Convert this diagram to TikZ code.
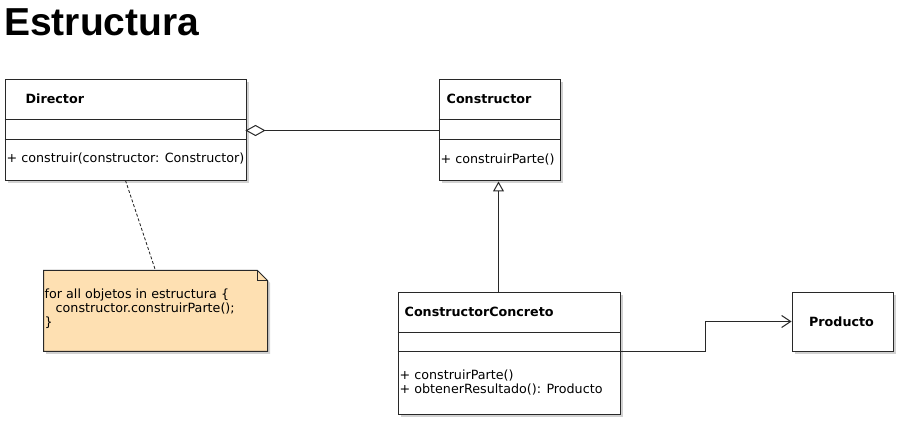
\documentclass[tikz,border=0pt]{standalone}
\usepackage{fontspec}
\setmainfont{DejaVu Sans}
\newfontfamily\titlefont{Liberation Sans}
\usetikzlibrary{arrows.meta,shadows,calc}
\definecolor{linec}{RGB}{40,40,40}
\definecolor{notefill}{RGB}{254,224,178}
\tikzset{
  classbox/.style={draw=linec, line width=1pt, fill=white, rectangle, anchor=north west, inner sep=0pt,
    drop shadow={shadow xshift=2.5pt, shadow yshift=-2.5pt, fill=black, opacity=0.18}},
  txt/.style={anchor=west, inner sep=0pt, font=\fontsize{12.7}{14}\selectfont, text=black},
  btxt/.style={anchor=west, inner sep=0pt, font=\fontsize{12.7}{14}\selectfont\bfseries, text=black},
  conn/.style={draw=linec, line width=1pt},
}
\begin{document}
\begin{tikzpicture}[x=1pt,y=-1pt]
\useasboundingbox (0,0) rectangle (898,422);
% title
\node[anchor=base west, inner sep=0pt, font=\titlefont\fontsize{39}{42}\selectfont\bfseries] (title) at (4,36) {Estructura};
\begin{scope}[shift={(0.5,0.5)}]
% Director
\node[classbox, minimum width=241pt, minimum height=101pt] (dir) at (4,79) {};
\draw[conn] (4,119) -- (245,119);
\draw[conn] (4,139) -- (245,139);
\node[btxt] (dirt) at (25,98) {Director};
\node[txt] (dirm) at (6,158) {+ construir(constructor: Constructor)};

% Constructor
\node[classbox, minimum width=121pt, minimum height=101pt] (cons) at (438,79) {};
\draw[conn] (438,119) -- (559,119);
\draw[conn] (438,139) -- (559,139);
\node[btxt] (const) at (446,98) {Constructor};
\node[txt] (consm) at (440,159) {+ construirParte()};

% ConstructorConcreto
\node[classbox, minimum width=222pt, minimum height=121pt] (cc) at (397,292) {};
\draw[conn] (397,332) -- (619,332);
\draw[conn] (397,351) -- (619,351);
\node[btxt] (cct) at (404,311) {ConstructorConcreto};
\node[txt] (ccm1) at (399,375) {+ construirParte()};
\node[txt] (ccm2) at (399,389) {+ obtenerResultado(): Producto};

% Producto
\node[classbox, minimum width=101pt, minimum height=59pt] (prod) at (791,292) {};
\node[btxt, anchor=center] (prodt) at (841,321) {Producto};

% Note
\fill[black, opacity=0.18] (45.5,272.5) -- (259.5,272.5) -- (269.5,282.5) -- (269.5,353.5) -- (45.5,353.5) -- cycle;
\draw[conn, fill=notefill] (43,270) -- (257,270) -- (267,280) -- (267,351) -- (43,351) -- cycle;
\draw[conn] (257,270) -- (257,280) -- (267,280);
\coordinate (notetop) at (155,270);
\node[txt] (n1) at (44,294) {for all objetos in estructura \{};
\node[txt] (n2) at (44,308) {\hspace*{11pt}constructor.construirParte();};
\node[txt] (n3) at (44,322) {\}};

% connectors
\coordinate (dirbot) at (125,180);
\draw[conn, line width=0.9pt, dash pattern=on 3pt off 2pt] (dirbot) -- (notetop);

% aggregation
\coordinate (agg) at ($(dir.north east)+(0,51)$);
\draw[conn, fill=white] (agg) -- ++(9,-5) -- ++(9,5) coordinate (aggend) -- ++(-9,5) -- cycle;
\draw[conn] (aggend) -- (aggend -| cons.west);

% inheritance
\draw[conn, -{Triangle[open, length=10pt, width=11pt]}] (cc.north -| 498,0) -- (cons.south -| 498,0);

% dependency to Producto
\coordinate (ccout) at (619,351);
\coordinate (bend1) at (705,351);
\coordinate (bend2) at (705,321);
\draw[conn, -{Straight Barb[length=9pt, width=12pt]}] (ccout) -- (bend1) -- (bend2) -- (bend2 -| prod.west);
\end{scope}
\end{tikzpicture}
\end{document}
